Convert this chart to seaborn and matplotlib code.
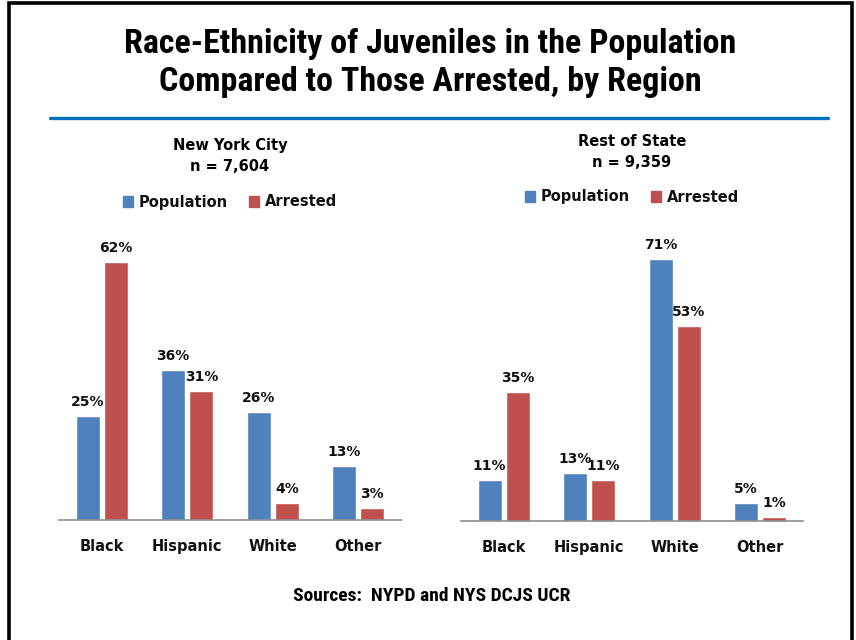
import matplotlib
matplotlib.use("Agg")
import matplotlib.pyplot as plt
import seaborn as sns
import pandas as pd
from matplotlib.lines import Line2D

categories = ["Black", "Hispanic", "White", "Other"]
series = ["Population", "Arrested"]
nyc_population = [25, 36, 26, 13]
nyc_arrested = [62, 31, 4, 3]
ros_population = [11, 13, 71, 5]
ros_arrested = [35, 11, 53, 1]
panel_titles = ["New York City\nn = 7,604", "Rest of State\nn = 9,359"]
title = "Race-Ethnicity of Juveniles in the Population\nCompared to Those Arrested, by Region"
source = "Sources:  NYPD and NYS DCJS UCR"

colors = {"Population": "#4F81BD", "Arrested": "#C0504D"}

sns.set_style("white")
plt.rcParams["font.family"] = ["DejaVu Sans"]
plt.rcParams["text.color"] = "black"
COND = ["Roboto Condensed", "PT Sans Narrow", "DejaVu Sans"]

def make_df(pop, arr):
    rows = []
    for c, p, a in zip(categories, pop, arr):
        rows.append({"Race": c, "Group": "Population", "Pct": p})
        rows.append({"Race": c, "Group": "Arrested", "Pct": a})
    return pd.DataFrame(rows)

W, H = 856, 640
fig = plt.figure(figsize=(W / 100, H / 100), dpi=100)

def px_axes(x0, x1, ytop, ybot):
    return fig.add_axes([x0 / W, (H - ybot) / H, (x1 - x0) / W, (ybot - ytop) / H])

panels = [
    (make_df(nyc_population, nyc_arrested), (59, 401, 229, 520), 70, 202, 156),
    (make_df(ros_population, ros_arrested), (461, 803, 226, 521), 80, 197, 152),
]

for (df, (x0, x1, yt, yb), ymax, leg_y, sub_y), ptitle in zip(panels, panel_titles):
    ax = px_axes(x0, x1, yt, yb)
    sns.barplot(data=df, x="Race", y="Pct", hue="Group", order=categories,
                hue_order=series, palette=colors, width=0.66, gap=0.15,
                ax=ax, legend=False, saturation=1)
    ax.set_ylim(0, ymax)
    ax.set_xlim(-0.5, 3.5)
    for cont in ax.containers:
        ax.bar_label(cont, fmt="%d%%", padding=5, fontsize=10,
                     fontweight="bold", color="#111111")
    for s in ["top", "right", "left"]:
        ax.spines[s].set_visible(False)
    ax.spines["bottom"].set_color("#8C8C8C")
    ax.spines["bottom"].set_linewidth(1.2)
    ax.set_yticks([])
    ax.set_xlabel("")
    ax.set_ylabel("")
    ax.tick_params(axis="x", length=0, pad=14, labelsize=10.5)
    for lab in ax.get_xticklabels():
        lab.set_fontweight("bold")
        lab.set_color("#111111")
    xc = (x0 + x1) / 2 / W
    fig.text(xc, (H - sub_y) / H, ptitle, ha="center", va="center",
             fontsize=10.5, fontweight="bold", linespacing=1.5, color="black")
    handles = [plt.Rectangle((0, 0), 1, 1, color=colors[s]) for s in series]
    leg = fig.legend(handles, series, loc="center", bbox_to_anchor=(xc, (H - leg_y) / H),
                     ncol=2, frameon=False, handlelength=0.7, handleheight=0.7,
                     handletextpad=0.4, columnspacing=1.4,
                     prop={"weight": "bold", "size": 10.5})
    for t in leg.get_texts():
        t.set_color("#111111")

fig.text(430 / W, (H - 63) / H, title, ha="center", va="center",
         fontsize=24.5, fontweight="bold", linespacing=1.2, color="black",
         family=COND)
fig.text(432 / W, (H - 596) / H, source, ha="center", va="center",
         fontsize=14, fontweight="bold", color="black", family=COND)

# blue rule under title
fig.add_artist(Line2D([50 / W, 828 / W], [(H - 118) / H] * 2, color="#0070C0", lw=2.4))
# frame (left, top, right)
fig.add_artist(Line2D([9 / W, 9 / W, 852 / W, 852 / W], [0, (H - 3) / H, (H - 3) / H, 0],
                      color="black", lw=2.6, solid_joinstyle="miter"))

fig.savefig("out.png", dpi=100)
